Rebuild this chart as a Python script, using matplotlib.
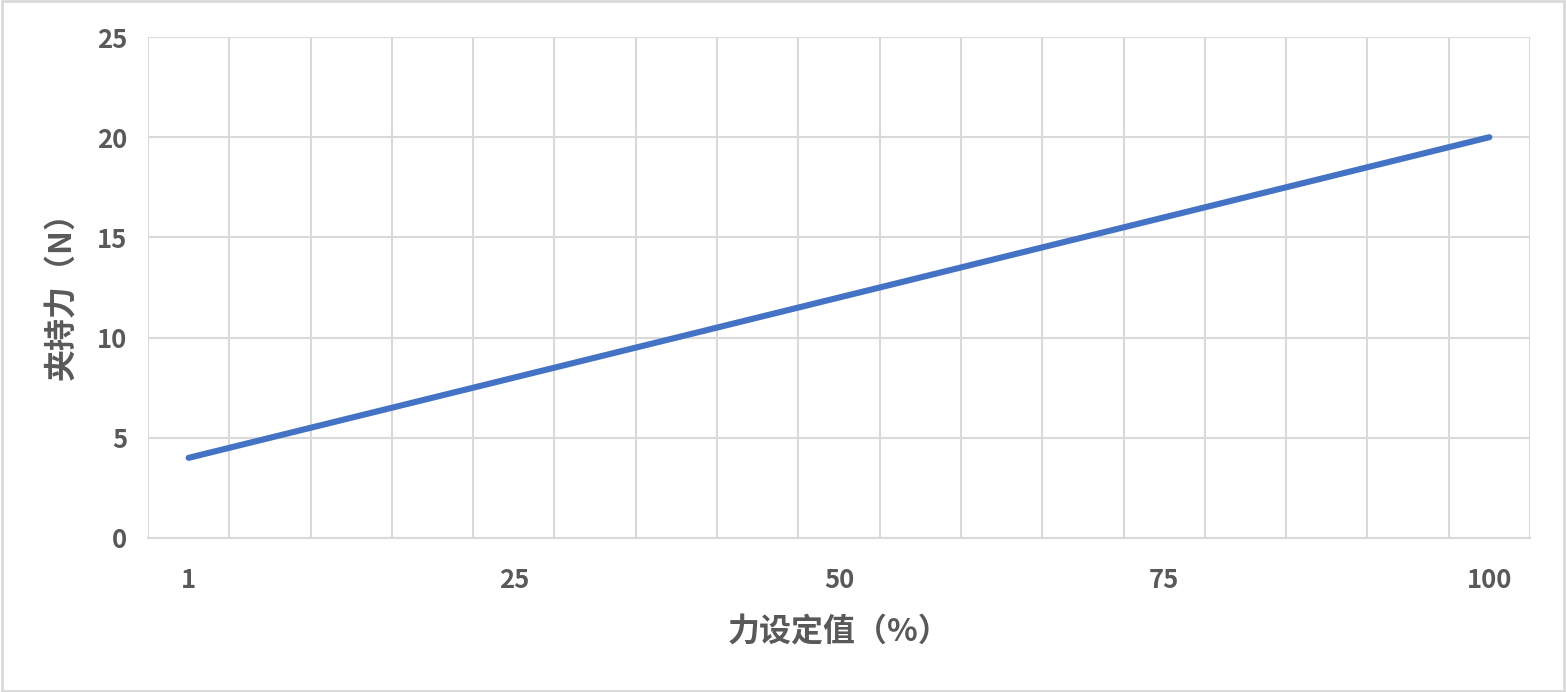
"""夹持力与力设定值关系曲线。"""
import matplotlib.pyplot as plt
from matplotlib.patches import Rectangle

plt.rcParams["font.family"] = ["Noto Sans CJK SC", "DejaVu Sans"]

# 17 个类别，只每隔 4 个显示一次标签
x_labels = ["1", "", "", "", "25", "", "", "", "50", "", "", "", "75", "", "", "", "100"]
clamping_force = [4, 5, 6, 7, 8, 9, 10, 11, 12, 13, 14, 15, 16, 17, 18, 19, 20]
y_ticks = [0, 5, 10, 15, 20, 25]

TEXT = "#595959"
GRID = "#D9D9D9"


def main() -> None:
    fig = plt.figure(figsize=(15.66, 6.92), dpi=100)
    ax = fig.add_axes([148 / 1566, 1 - 538 / 692, (1530 - 148) / 1566, (538 - 37) / 692])

    xs = list(range(len(clamping_force)))
    ax.plot(xs, clamping_force, "-", color="#4472C4", linewidth=4.4, solid_capstyle="round")

    ax.set_xlim(-0.5, len(xs) - 0.5)
    ax.set_ylim(0, 25)
    ax.set_yticks(y_ticks)
    ax.set_xticks(xs)
    ax.set_xticklabels(x_labels)
    ax.set_xticks([i - 0.5 for i in range(len(xs) + 1)], minor=True)

    ax.grid(True, which="minor", axis="x", color=GRID, linewidth=1.5)
    ax.grid(True, which="major", axis="y", color=GRID, linewidth=1.5)
    ax.set_axisbelow(True)

    for side in ("top", "right", "left"):
        ax.spines[side].set_visible(False)
    ax.spines["bottom"].set_color(GRID)
    ax.spines["bottom"].set_linewidth(1.5)

    ax.tick_params(axis="both", which="both", length=0)
    ax.tick_params(axis="x", pad=21)
    ax.tick_params(axis="y", pad=15)
    for lab in ax.get_xticklabels() + ax.get_yticklabels():
        lab.set_fontsize(18.5)
        lab.set_fontweight("heavy")
        lab.set_color(TEXT)

    ax.set_xlabel("力设定值（%）", fontsize=23, fontweight="heavy", color=TEXT, labelpad=16)
    ax.set_ylabel("夹持力（N）", fontsize=23, fontweight="heavy", color=TEXT, labelpad=14)

    fig.patches.append(Rectangle((0.001, 0.002), 0.998, 0.996, transform=fig.transFigure,
                                 fill=False, edgecolor=GRID, linewidth=2))

    fig.savefig("out.png", dpi=100)


if __name__ == "__main__":
    main()
